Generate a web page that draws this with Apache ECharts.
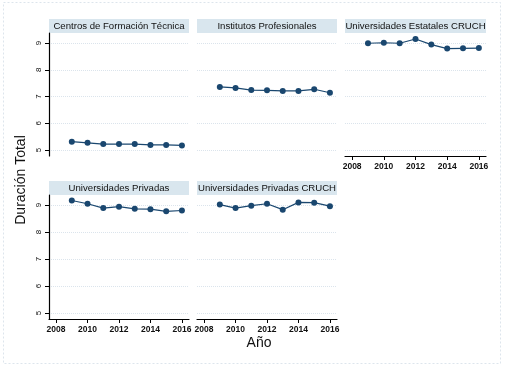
<!DOCTYPE html>
<html>
<head>
<meta charset="utf-8">
<script src="https://cdn.jsdelivr.net/npm/echarts@6/dist/echarts.min.js"></script>
<style>
  html, body { margin: 0; padding: 0; background: #fff; }
  #chart { width: 505px; height: 369px; }
</style>
</head>
<body>
<div id="chart"></div>
<script>
  // años y duración total por tipo de institución
  var years = [2009, 2010, 2011, 2012, 2013, 2014, 2015, 2016];
  var panelTitles = [
    'Centros de Formación Técnica',
    'Institutos Profesionales',
    'Universidades Estatales CRUCH',
    'Universidades Privadas',
    'Universidades Privadas CRUCH'
  ];
  var cft = [5.31, 5.27, 5.22, 5.22, 5.22, 5.19, 5.19, 5.17];
  var ip = [7.36, 7.32, 7.24, 7.23, 7.21, 7.21, 7.27, 7.14];
  var ueCruch = [8.99, 9.01, 8.99, 9.15, 8.94, 8.79, 8.80, 8.81];
  var up = [9.17, 9.05, 8.89, 8.94, 8.86, 8.85, 8.77, 8.80];
  var upCruch = [9.02, 8.89, 8.98, 9.05, 8.83, 9.10, 9.09, 8.96];
  var yTicks = [5, 6, 7, 8, 9];
  var xTicks = [2008, 2010, 2012, 2014, 2016];

  var seriesData = [cft, ip, ueCruch, up, upCruch];

  // posiciones de los paneles (px)
  var panels = [
    {left: 49, top: 33, w: 140, h: 123, showY: true, showX: false},
    {left: 197, top: 33, w: 140, h: 123, showY: false, showX: false},
    {left: 345, top: 33, w: 141, h: 123, showY: false, showX: true},
    {left: 49, top: 195, w: 140, h: 124, showY: true, showX: true},
    {left: 197, top: 195, w: 140, h: 124, showY: false, showX: true}
  ];

  var lineColor = '#1a476f';
  var gridColor = '#dbe4ec';

  var grids = [], xAxes = [], yAxes = [], series = [], graphics = [];

  panels.forEach(function (p, i) {
    grids.push({left: p.left, top: p.top, width: p.w, height: p.h});
    xAxes.push({
      type: 'value',
      gridIndex: i,
      min: 2007.55,
      max: 2016.45,
      axisLine: {show: p.showX, onZero: false, lineStyle: {color: '#000', width: 1.2}},
      axisTick: {show: p.showX, length: 4, customValues: xTicks, lineStyle: {color: '#000'}},
      axisLabel: {show: p.showX, customValues: xTicks, margin: 6, fontSize: 8.5,
        color: '#111', fontFamily: 'Liberation Sans, Arial', fontWeight: 'bold',
        formatter: function (v) { return String(v); }},
      splitLine: {show: false}
    });
    yAxes.push({
      type: 'value',
      gridIndex: i,
      min: 4.776,
      max: 9.374,
      axisLine: {show: p.showY, lineStyle: {color: '#000', width: 1.2}},
      axisTick: {show: p.showY, length: 4, customValues: yTicks, lineStyle: {color: '#000'}},
      axisLabel: {show: p.showY, customValues: yTicks, rotate: 90, margin: 6, fontSize: 8,
        color: '#111', fontFamily: 'Liberation Sans, Arial'},
      splitLine: {show: true, customValues: yTicks, lineStyle: {color: gridColor, type: 'dotted', width: 1}}
    });
    series.push({
      type: 'line',
      xAxisIndex: i,
      yAxisIndex: i,
      data: years.map(function (y, k) { return [y, seriesData[i][k]]; }),
      symbol: 'circle',
      symbolSize: 6,
      lineStyle: {color: lineColor, width: 1.2},
      itemStyle: {color: lineColor},
      silent: true
    });
    // franja de título
    graphics.push({
      type: 'rect',
      shape: {x: p.left, y: p.top - 14, width: p.w, height: 14},
      style: {fill: '#d9e6ee'}
    });
    graphics.push({
      type: 'text',
      x: p.left + p.w / 2,
      y: p.top - 7,
      style: {text: panelTitles[i], fill: '#111', font: '9.6px "Liberation Sans", Arial',
        align: 'center', verticalAlign: 'middle'}
    });
  });

  // marco exterior
  graphics.unshift({
    type: 'rect',
    shape: {x: 3.5, y: 2.5, width: 497, height: 361},
    style: {fill: 'none', stroke: '#dde5ec', lineWidth: 1, lineDash: [2, 2]}
  });
  graphics.push({
    type: 'text',
    x: 21,
    y: 180,
    rotation: Math.PI / 2,
    style: {text: 'Duración Total', fill: '#111', font: '14px "Liberation Sans", Arial',
      align: 'center', verticalAlign: 'middle'}
  });
  graphics.push({
    type: 'text',
    x: 259,
    y: 343,
    style: {text: 'Año', fill: '#111', font: '14px "Liberation Sans", Arial',
      align: 'center', verticalAlign: 'middle'}
  });

  var myChart = echarts.init(document.getElementById('chart'), null, {renderer: 'canvas'});
  myChart.setOption({
    backgroundColor: '#fff',
    animation: false,
    grid: grids,
    xAxis: xAxes,
    yAxis: yAxes,
    series: series,
    graphic: graphics
  });
</script>
</body>
</html>
